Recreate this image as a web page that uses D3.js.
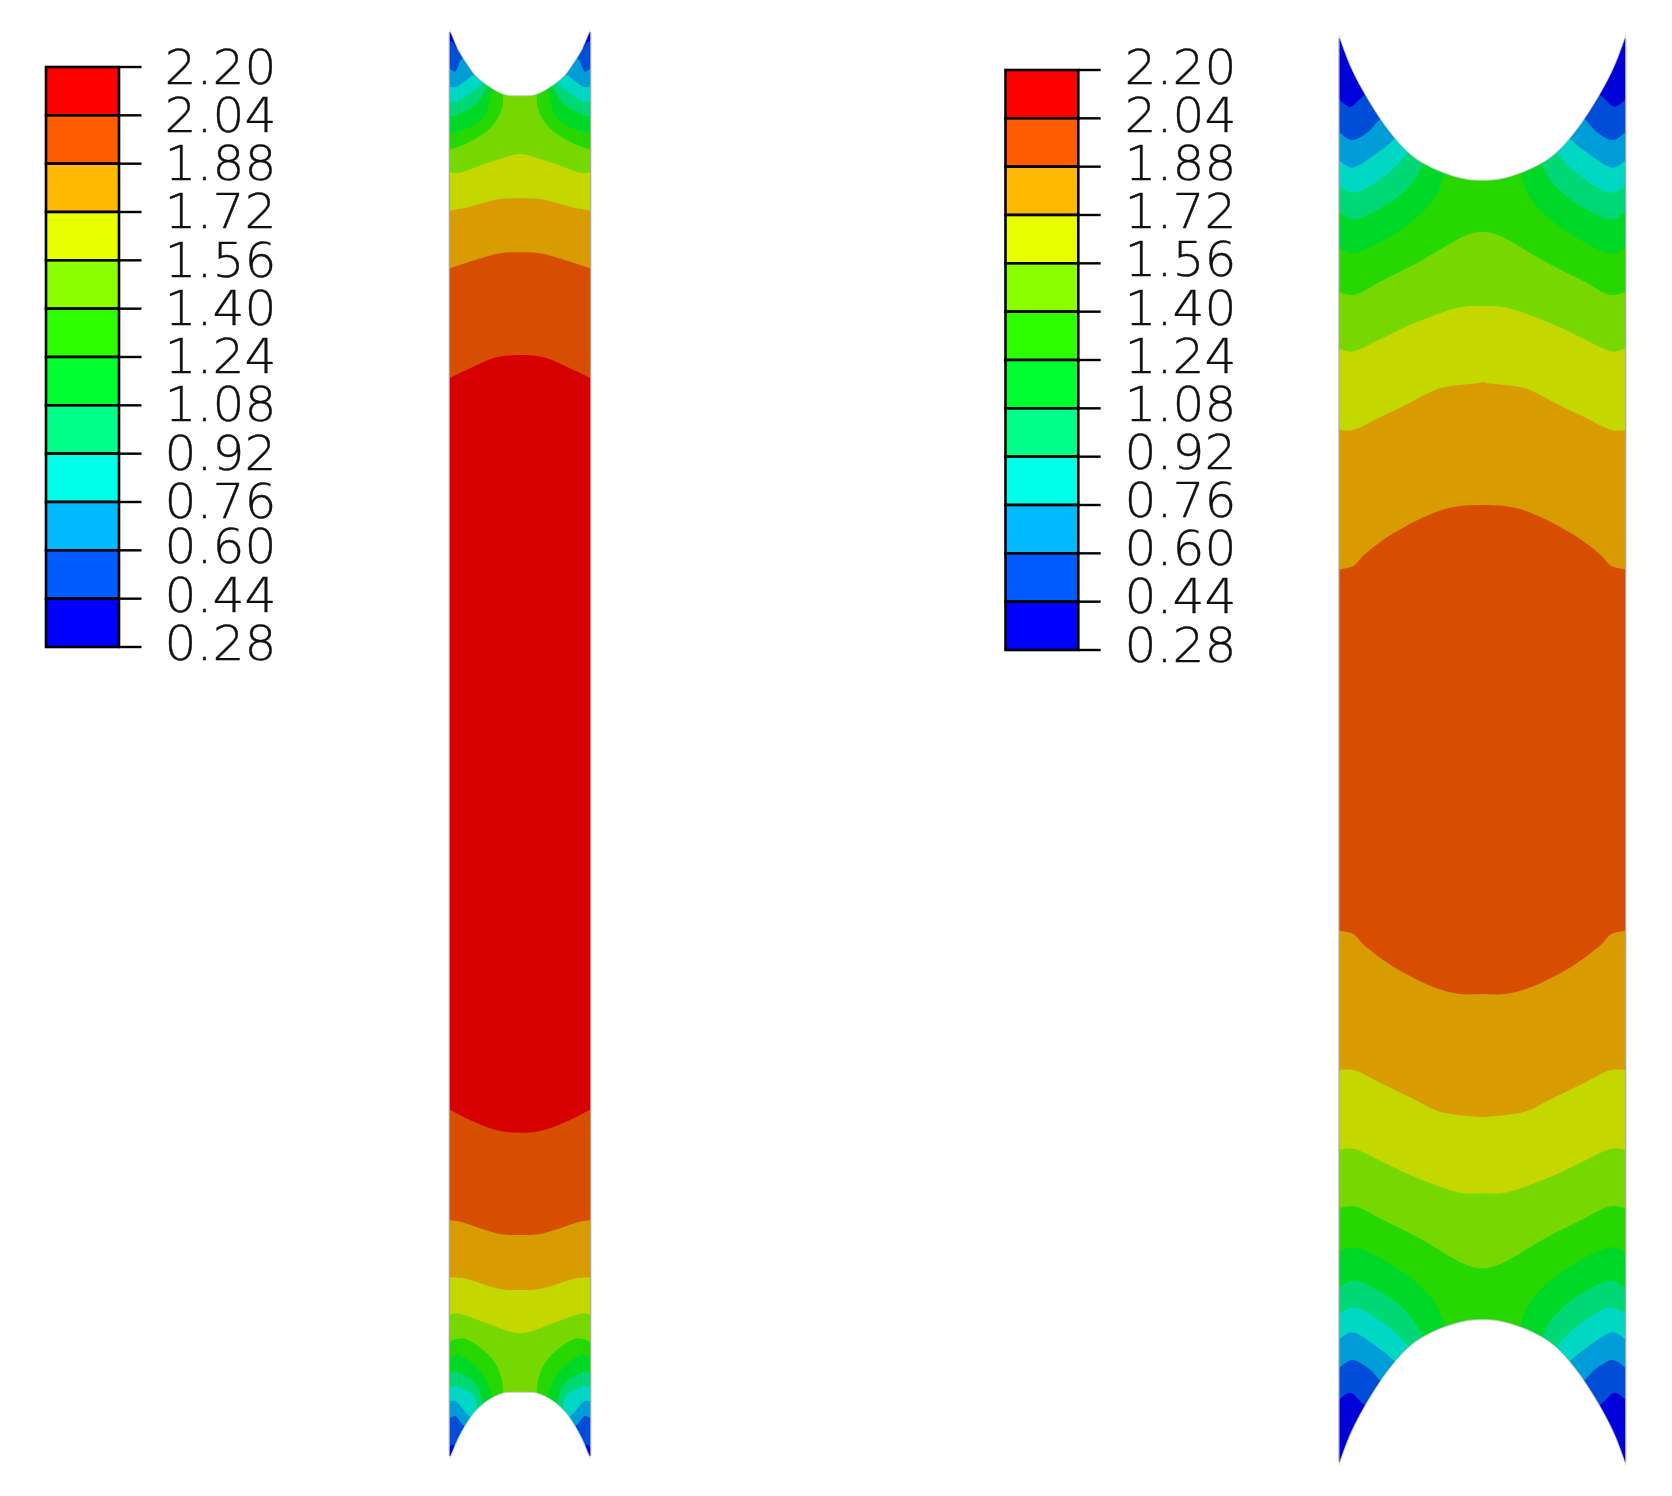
<!DOCTYPE html>
<html><head><meta charset="utf-8">
<script src="https://cdn.jsdelivr.net/npm/d3@7"></script>
<style>html,body{margin:0;padding:0;background:#fff}svg{display:block;filter:blur(.45px)}</style></head>
<body><svg id="c" width="1672" height="1496"></svg>
<script>
// Legend
const legendTicks=[2.20,2.04,1.88,1.72,1.56,1.40,1.24,1.08,0.92,0.76,0.60,0.44,0.28];
const legendColors=["#FF0000","#FF5C00","#FFB900","#E8FF00","#8BFF00","#2EFF00","#00FF2E","#00FF8B","#00FFE8","#00B9FF","#005CFF","#0000FF"];
// Shaded band colours, as drawn on the plates (top to bottom)
const baseShade="#0000d8";
const shadesA=["#004ed8","#009cd8","#00d8c4","#00d876","#00d827","#27d800","#76d800","#c4d800","#d89c00","#d84e00","#d60000","#d84e00","#d89c00","#c4d800","#76d800","#27d800","#00d827","#00d876","#00d8c4","#009cd8","#004ed8","#0000d8"];
const shadesB=["#004ed8","#009cd8","#00d8c4","#00d876","#00d827","#27d800","#76d800","#c4d800","#d89c00","#d84e00","#d89c00","#c4d800","#76d800","#27d800","#00d827","#00d876","#00d8c4","#009cd8","#004ed8","#0000d8"];
// Plate A (narrow), half profile in model units: [distance from edge, height]
const notchTopA=[[0,90],[4,97],[27,150],[52,190],[77,225],[117,258],[162,283],[190,287],[212,287]];
const notchBotA=[[0,4375],[4,4368],[27,4315],[52,4270],[77,4235],[117,4200],[162,4179],[190,4177],[212,4177]];
const contoursA=[
[[0,122],[12,128],[25,145]],
[[0,205],[17,215],[40,175]],
[[0,258],[17,262],[52,240],[75,222]],
[[0,305],[17,305],[77,270],[100,245]],
[[0,350],[17,348],[82,310],[115,260]],
[[0,398],[27,395],[102,355],[130,270]],
[[0,448],[42,435],[127,380],[160,320],[162,285]],
[[0,515],[22,520],[112,490],[172,470],[212,462]],
[[0,632],[42,625],[152,597],[212,595]],
[[0,805],[52,788],[152,760],[212,757]],
[[0,1135],[62,1105],[137,1073],[212,1065]],
[[0,3328],[62,3360],[152,3393],[212,3398]],
[[0,3660],[32,3665],[152,3702],[212,3705]],
[[0,3833],[42,3835],[152,3867],[212,3870]],
[[0,3945],[22,3940],[112,3970],[172,3992],[212,4000]],
[[0,4025],[42,4015],[127,4075],[157,4135],[162,4177]],
[[0,4075],[27,4065],[102,4125],[130,4190]],
[[0,4125],[17,4115],[82,4155],[102,4210]],
[[0,4162],[17,4158],[77,4190],[85,4225]],
[[0,4205],[17,4202],[62,4250]],
[[0,4255],[17,4248],[47,4280]],
[[0,4340],[12,4335],[20,4350]]
];
// Plate B (wide)
const notchTopB=[[0,105],[3,115],[33,195],[68,265],[123,355],[168,415],[213,462],[253,490],[313,518],[383,538],[430,541]];
const notchBotB=[[0,4395],[3,4385],[33,4305],[68,4235],[123,4145],[168,4085],[213,4038],[253,4010],[313,3982],[383,3962],[430,3959]];
const contoursB=[
[[0,298],[33,320],[78,285]],
[[0,395],[38,420],[88,395],[123,358]],
[[0,480],[38,503],[113,460],[168,415]],
[[0,558],[43,578],[133,530],[203,462]],
[[0,635],[43,658],[163,600],[223,545],[253,490]],
[[0,745],[43,760],[183,690],[283,600],[316,520]],
[[0,875],[43,885],[133,840],[233,790],[383,705],[430,695]],
[[0,1045],[38,1055],[123,1018],[213,975],[363,922],[430,918]],
[[0,1290],[43,1290],[123,1252],[213,1208],[303,1165],[413,1150],[430,1147]],
[[0,1708],[43,1698],[75,1665],[163,1600],[293,1535],[363,1518],[430,1515]],
[[0,2792],[43,2802],[75,2835],[163,2900],[293,2965],[363,2982],[430,2982]],
[[0,3210],[43,3210],[123,3248],[213,3292],[303,3335],[413,3350],[430,3352]],
[[0,3450],[38,3445],[123,3482],[213,3525],[363,3578],[430,3580]],
[[0,3625],[43,3618],[133,3660],[233,3710],[383,3795],[430,3805]],
[[0,3755],[43,3742],[183,3810],[283,3900],[316,3975]],
[[0,3865],[43,3842],[163,3900],[223,3960],[253,4010]],
[[0,3945],[43,3922],[133,3970],[203,4035]],
[[0,4020],[38,3997],[113,4040],[168,4085]],
[[0,4105],[38,4080],[88,4105],[123,4140]],
[[0,4200],[33,4178],[78,4215]]
];

const svg=d3.select("#c");
const fmt=d3.format(".2f");

function legend(box,tickEnd,yRange,labelX,labelScale){
  const y=d3.scaleLinear().domain([0.28,2.20]).range(yRange);
  const g=svg.append("g");
  g.selectAll("rect").data(legendColors).join("rect")
    .attr("x",box[0]).attr("width",box[1]-box[0])
    .attr("y",(d,i)=>y(legendTicks[i])).attr("height",(d,i)=>y(legendTicks[i+1])-y(legendTicks[i]))
    .attr("fill",d=>d).attr("stroke","#000").attr("stroke-width",2.6);
  g.selectAll("line").data(legendTicks).join("line")
    .attr("x1",box[1]).attr("x2",tickEnd).attr("y1",y).attr("y2",y)
    .attr("stroke","#000").attr("stroke-width",2.4);
  g.selectAll("text").data(legendTicks).join("text")
    .attr("x",labelX).attr("y",labelScale).text(fmt)
    .attr("fill","#111").attr("stroke","#111").attr("stroke-width",.35)
    .attr("textLength",112).attr("lengthAdjust","spacingAndGlyphs")
    .attr("style","font-family:'DejaVu Sans ExtraLight','DejaVu Sans';font-weight:200;font-size:47.2px");
}
legend([46,119],141.5,[647,67],164.5,d3.scaleLinear().domain([0.28,0.60,0.76,2.20]).range([659.8,563.4,518,83.5]));
legend([1005.5,1078.3],1100.7,[650,70],1124.5,d3.scaleLinear().domain([0.28,2.20]).range([661.6,83.8]));

function plate(W,yDom,xRange,yRange,notchTop,notchBot,contours,shades){
  const x=d3.scaleLinear().domain([0,W]).range(xRange);
  const y=d3.scaleLinear().domain(yDom).range(yRange);
  const mid=(yDom[0]+yDom[1])/2;
  const curve=d3.curveCatmullRom.alpha(0.5);
  const mirror=h=>{const c=h.map(p=>p.slice());
    if(c[c.length-1][0]<W/2) c.push([W/2,c[0][1]<mid?yDom[0]:yDom[1]]);
    return c.concat(c.slice(0,-1).reverse().map(p=>[W-p[0],p[1]]));};
  const g=svg.append("g");
  g.append("rect").attr("x",x(0)).attr("width",x(W)-x(0)).attr("y",y(yDom[0])).attr("height",y(yDom[1])-y(yDom[0])).attr("fill",baseShade);
  const below=d3.area().x(d=>x(d[0])).y0(y(yDom[1])).y1(d=>y(d[1])).curve(curve);
  g.selectAll("path.band").data(contours).join("path").attr("class","band")
    .attr("d",d=>below(mirror(d))).attr("fill",(d,i)=>shades[i]);
  const margin=6;
  const topA=d3.area().x(d=>x(d[0])).y0(y(yDom[0])-margin).y1(d=>y(d[1])).curve(curve);
  const botA=d3.area().x(d=>x(d[0])).y0(y(yDom[1])+margin).y1(d=>y(d[1])).curve(curve);
  g.append("path").attr("d",topA(mirror(notchTop))).attr("fill","#fff");
  g.append("path").attr("d",botA(mirror(notchBot))).attr("fill","#fff");
  const ln=d3.line().x(d=>x(d[0])).y(d=>y(d[1]));
  const edge=[[ [0,yDom[0]],[0,yDom[1]] ],[ [W,yDom[0]],[W,yDom[1]] ]];
  g.selectAll("path.edge").data(edge).join("path").attr("class","edge").attr("d",ln)
    .attr("fill","none").attr("stroke","#aaa").attr("stroke-width",1.2);
  const rim=d3.line().x(d=>x(d[0])).y(d=>y(d[1])).curve(curve);
  g.selectAll("path.rim").data([mirror(notchTop),mirror(notchBot)]).join("path").attr("class","rim").attr("d",rim)
    .attr("fill","none").attr("stroke","#c8c8c8").attr("stroke-width",.8);
}
plate(424,[97,4368],[449.3,590.7],[32.3,1456],notchTopA,notchBotA,contoursA,shadesA);
plate(860,[115,4385],[1339,1625.7],[38.3,1461.7],notchTopB,notchBotB,contoursB,shadesB);
</script></body></html>
